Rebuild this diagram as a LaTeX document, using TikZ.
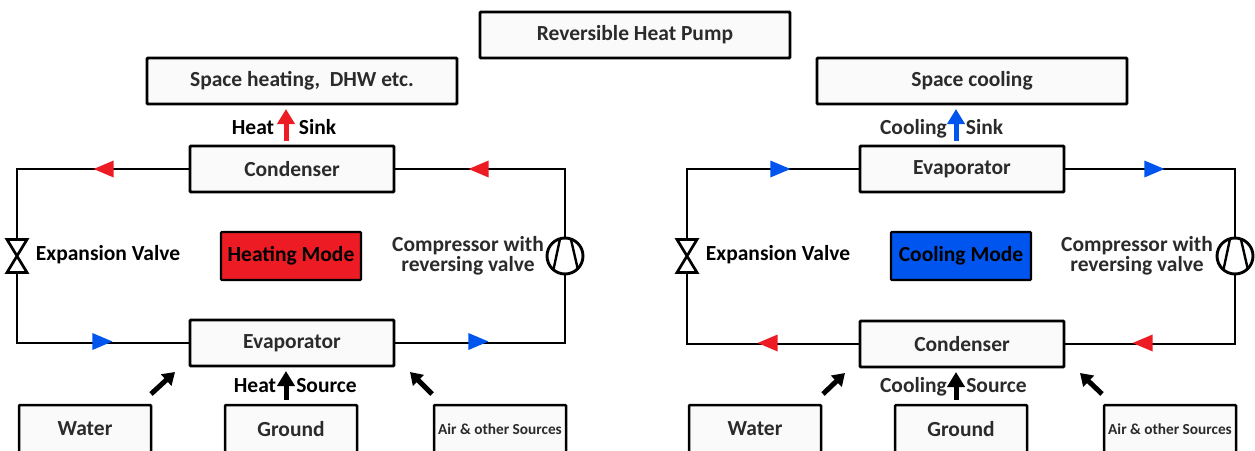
\documentclass[tikz,border=0pt]{standalone}
\usepackage{fontspec}
\setmainfont{Carlito}
\usetikzlibrary{shapes.geometric}
\usetikzlibrary{arrows.meta}
\definecolor{hotred}{HTML}{ED1C24}
\definecolor{coldblue}{HTML}{0055EE}
\definecolor{inktext}{HTML}{2B2B2B}
\tikzset{
  box/.style={draw=black,line width=2.9pt,fill=white!98!black,rounded corners=1pt,inner sep=0,outer sep=0,text=inktext,font=\fontsize{21.5}{21.5}\selectfont\bfseries},
  bigbox/.style={box,minimum width=310,minimum height=46},
  unitbox/.style={box,minimum width=204,minimum height=46},
  srcbox/.style={box,line width=2.5pt,minimum width=132,minimum height=52,text depth=4pt},
  modebox/.style={box,line width=2.2pt,text=black,minimum width=140,minimum height=48},
  lab/.style={inner sep=0,text=black,font=\fontsize{21.5}{17}\selectfont\bfseries},
  linelab/.style={lab,text height=13pt,text depth=4pt,yshift=-2pt},
  valve/.style={inner sep=0,outer sep=0,minimum width=20,minimum height=33},
  comp/.style={circle,draw=black,line width=2.9pt,fill=white,inner sep=0,outer sep=0,minimum size=36},
  loopline/.style={draw=black,line width=2.9pt,line join=miter},
  tipr/.style={isosceles triangle,isosceles triangle stretches,inner sep=0,outer sep=0,minimum width=17,minimum height=20},
  tipl/.style={tipr,shape border rotate=180},
  flow/.style={line width=5pt,-{Triangle[length=15pt,width=17pt]},shorten <=5pt,shorten >=5pt},
  feed/.style={line width=5pt,-{Triangle[length=12pt,width=15pt]}},
}
\begin{document}
\begin{tikzpicture}[x=1pt,y=-1pt]
\useasboundingbox (0,0) rectangle (1255,450);
\clip (0,0) rectangle (1255,450);
\node[bigbox] (title) at (635,35) {Reversible Heat Pump};
% heating side
\node[bigbox] (hspace) at (302,81) {Space heating,\ \ DHW etc.};
\node[unitbox] (hcond) at (292,169) {Condenser};
\node[unitbox] (hevap) at (292,343) {Evaporator};
\node[modebox,fill=hotred] (hmode) at (291,256) {Heating Mode};
\node[srcbox] (hwater) at (85,431) {Water};
\node[srcbox] (hground) at (291,431) {Ground};
\node[srcbox,font=\fontsize{15.3}{15.3}\selectfont\bfseries] (hair) at (500,431) {Air \& other Sources};
\node[valve] (hvalve) at (17,256) {};
\node[comp] (hcomp) at (565,256) {};
\node[linelab] (hexp) at (108,254) {Expansion Valve};
\node[lab,align=center,text=inktext] (hcomptext) at (468,256) {Compressor with\\reversing valve};
\node[linelab] (hheat) at (253,128) {Heat};
\node[linelab] (hsink) at (317.5,128) {Sink};
\node[linelab] (hheats) at (255,386) {Heat};
\node[linelab] (hsource) at (326.5,386) {Source};
\draw[loopline] (hcond.west) -| (hvalve.north);
\draw[loopline] (hvalve.south) |- (hevap.west);
\draw[loopline] (hevap.east) -| (hcomp.south);
\draw[loopline] (hcomp.north) |- (hcond.east);
\draw[line width=2.7pt,line join=miter] (hvalve.north west) -- (hvalve.north east) -- (hvalve.south west) -- (hvalve.south east) -- cycle;
\draw[line width=2.4pt] (hcomp.106) -- (hcomp.230) (hcomp.71) -- (hcomp.-45);
\node[tipl,fill=hotred] (ht1) at (108,169) {};
\node[tipl,fill=hotred] (ht2) at (483,169) {};
\node[tipr,fill=coldblue] (ht3) at (98,341.5) {};
\node[tipr,fill=coldblue] (ht4) at (474,341.5) {};
\draw[flow,hotred] ([xshift=-6]hcond.north) -- ([xshift=-6]hcond.north |- hspace.south);
\draw[flow,black] ([xshift=-5]hground.north) -- ([xshift=-5]hground.north |- hevap.south);
\draw[feed] ([yshift=11]hwater.north east) -- ([xshift=-15,yshift=-6]hevap.south west);
\draw[feed] ([xshift=-2,yshift=11]hair.north west) -- ([xshift=16,yshift=-6]hevap.south east);
% cooling side
\node[bigbox] (cspace) at (972,81) {Space cooling};
\node[unitbox] (cevap) at (962,169) {Evaporator};
\node[unitbox] (ccond) at (962,344) {Condenser};
\node[modebox,fill=coldblue] (cmode) at (961,256) {Cooling Mode};
\node[srcbox] (cwater) at (755,431) {Water};
\node[srcbox] (cground) at (961,431) {Ground};
\node[srcbox,font=\fontsize{15.3}{15.3}\selectfont\bfseries] (cair) at (1170,431) {Air \& other Sources};
\node[valve] (cvalve) at (687,256) {};
\node[comp] (ccomp) at (1235,256) {};
\node[linelab] (cexp) at (778,254) {Expansion Valve};
\node[lab,align=center,text=inktext] (ccomptext) at (1137,256) {Compressor with\\reversing valve};
\node[linelab,text=inktext] (ccool) at (913.5,128) {Cooling};
\node[linelab,text=inktext] (csink) at (984.5,128) {Sink};
\node[linelab,text=inktext] (ccools) at (913.5,386) {Cooling};
\node[linelab,text=inktext] (csource) at (996.5,386) {Source};
\draw[loopline] (cevap.west) -| (cvalve.north);
\draw[loopline] (cvalve.south) |- (ccond.west);
\draw[loopline] (ccond.east) -| (ccomp.south);
\draw[loopline] (ccomp.north) |- (cevap.east);
\draw[line width=2.7pt,line join=miter] (cvalve.north west) -- (cvalve.north east) -- (cvalve.south west) -- (cvalve.south east) -- cycle;
\draw[line width=2.4pt] (ccomp.106) -- (ccomp.230) (ccomp.71) -- (ccomp.-45);
\node[tipr,fill=coldblue] (ct1) at (776,169) {};
\node[tipr,fill=coldblue] (ct2) at (1150,169) {};
\node[tipl,fill=hotred] (ct3) at (772,343) {};
\node[tipl,fill=hotred] (ct4) at (1147,343) {};
\draw[flow,coldblue] ([xshift=-6]cevap.north) -- ([xshift=-6]cevap.north |- cspace.south);
\draw[flow,black] ([xshift=-5]cground.north) -- ([xshift=-5]cground.north |- ccond.south);
\draw[feed] ([xshift=2,yshift=11]cwater.north east) -- ([xshift=-15,yshift=-6]ccond.south west);
\draw[feed] ([xshift=-2,yshift=11]cair.north west) -- ([xshift=16,yshift=-6]ccond.south east);
\end{tikzpicture}
\end{document}
